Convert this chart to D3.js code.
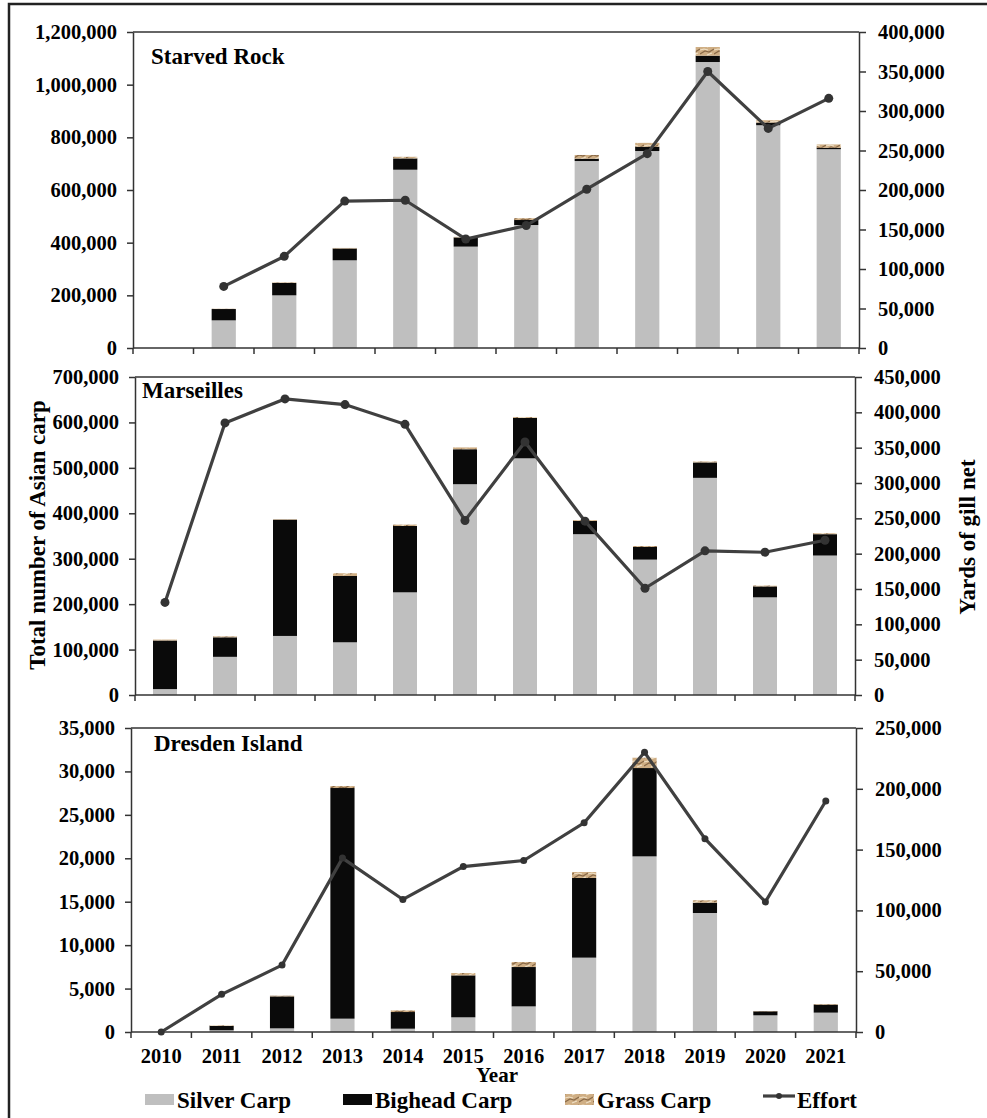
<!DOCTYPE html>
<html>
<head>
<meta charset="utf-8">
<script src="https://cdn.jsdelivr.net/npm/d3@7"></script>
<style>
  body { margin: 0; background: #fff; }
  svg text { font-family: "Liberation Serif", "Times New Roman", serif; font-weight: bold; fill: #000; }
</style>
</head>
<body>
<div id="chart"></div>
<script>
// ---- data (numbers per year) ----
let years = [2010, 2011, 2012, 2013, 2014, 2015, 2016, 2017, 2018, 2019, 2020, 2021];

let srSilver  = [0, 105000, 200000, 333000, 677000, 385000, 467000, 710000, 748000, 1086000, 846000, 755000];
let srBighead = [0, 43000, 47000, 45000, 43000, 35000, 19000, 9000, 16000, 24000, 10000, 5000];
let srGrass   = [0, 1000, 2000, 2000, 6000, 2000, 7000, 14000, 15000, 33000, 9000, 13000];
let srEffort  = [null, 78000, 116000, 186000, 187000, 138000, 155000, 201000, 246000, 350000, 278000, 316000];

let maSilver  = [13000, 84000, 130000, 116000, 226000, 464000, 521000, 354000, 298000, 478000, 215000, 307000];
let maBighead = [107000, 43000, 256000, 146000, 146000, 77000, 89000, 29000, 28000, 34000, 24000, 47000];
let maGrass   = [2000, 2000, 1000, 6000, 3000, 4000, 2000, 2000, 2000, 2000, 2000, 2000];
let maEffort  = [131000, 385000, 419000, 411000, 383000, 247000, 358000, 246000, 151000, 204000, 202000, 219000];

let drSilver  = [0, 200, 420, 1535, 380, 1690, 2950, 8560, 20220, 13700, 1920, 2230];
let drBighead = [0, 500, 3680, 26555, 1920, 4830, 4530, 9170, 10170, 1190, 460, 920];
let drGrass   = [0, 70, 80, 230, 190, 270, 580, 690, 1190, 270, 40, 70];
let drEffort  = [0, 31000, 55000, 143000, 109000, 136000, 141000, 172000, 230000, 159000, 107000, 190000];

let leftTicks1 = [0, 200000, 400000, 600000, 800000, 1000000, 1200000];
let rightTicks1 = [0, 50000, 100000, 150000, 200000, 250000, 300000, 350000, 400000];
let leftTicks2 = [0, 100000, 200000, 300000, 400000, 500000, 600000, 700000];
let rightTicks2 = [0, 50000, 100000, 150000, 200000, 250000, 300000, 350000, 400000, 450000];
let leftTicks3 = [0, 5000, 10000, 15000, 20000, 25000, 30000, 35000];
let rightTicks3 = [0, 50000, 100000, 150000, 200000, 250000];

let speciesKeys = ["silver", "bighead", "grass"];
let legendNames = ["Silver Carp", "Bighead Carp", "Grass Carp", "Effort"];

// ---- page ----
let width = 987, height = 1118;
let fmt = d3.format(",");

let svg = d3.select("#chart").append("svg")
  .attr("width", width).attr("height", height);

// grass carp texture
let defs = svg.append("defs");
let pat = defs.append("pattern").attr("id", "grass")
  .attr("patternUnits", "userSpaceOnUse").attr("width", 14).attr("height", 8);
pat.append("rect").attr("width", 14).attr("height", 8).attr("fill", "#cfae84");
pat.append("path").attr("d", "M0,6 L5,3 L9,4 L14,1").attr("stroke", "#8a6a48").attr("stroke-width", 1.2).attr("fill", "none");
pat.append("path").attr("d", "M0,2 L4,1 L8,2 M7,7 L12,5").attr("stroke", "#efe0c6").attr("stroke-width", 1.2).attr("fill", "none");

let colors = { silver: "#bfbfbf", bighead: "#0a0a0a", grass: "url(#grass)" };

// outer frame
svg.append("rect").attr("x", 9).attr("y", 4).attr("width", 1000).attr("height", 1200)
  .attr("fill", "none").attr("stroke", "#222").attr("stroke-width", 2.5);

let panels = [
  { title: "Starved Rock", silver: srSilver, bighead: srBighead, grass: srGrass, effort: srEffort,
    left: 133, right: 859, top: 32, bottom: 348, lMax: 1200000, rMax: 400000,
    lTicks: leftTicks1, rTicks: rightTicks1, r: 4.5, tx: 151, ty: 64 },
  { title: "Marseilles", silver: maSilver, bighead: maBighead, grass: maGrass, effort: maEffort,
    left: 135, right: 855, top: 377, bottom: 695, lMax: 700000, rMax: 450000,
    lTicks: leftTicks2, rTicks: rightTicks2, r: 4.5, tx: 142, ty: 398 },
  { title: "Dresden Island", silver: drSilver, bighead: drBighead, grass: drGrass, effort: drEffort,
    left: 131, right: 856, top: 728, bottom: 1032, lMax: 35000, rMax: 250000,
    lTicks: leftTicks3, rTicks: rightTicks3, r: 3.5, tx: 154, ty: 751, xLabels: true }
];

panels.forEach(function(p) {
  let g = svg.append("g");

  let x = d3.scaleBand().domain(years).range([p.left, p.right])
    .paddingInner(0.6).paddingOuter(0.3);
  let yL = d3.scaleLinear().domain([0, p.lMax]).range([p.bottom, p.top]);
  let yR = d3.scaleLinear().domain([0, p.rMax]).range([p.bottom, p.top]);

  let rows = years.map(function(yr, i) {
    return { year: yr, silver: p.silver[i], bighead: p.bighead[i], grass: p.grass[i] };
  });
  let stacked = d3.stack().keys(speciesKeys)(rows);

  g.selectAll("g.layer").data(stacked).enter().append("g")
    .attr("fill", function(d) { return colors[d.key]; })
    .selectAll("rect").data(function(d) { return d; }).enter().append("rect")
    .attr("x", function(d) { return x(d.data.year); })
    .attr("width", x.bandwidth())
    .attr("y", function(d) { return yL(d[1]); })
    .attr("height", function(d) { return yL(d[0]) - yL(d[1]); });

  // top frame line
  g.append("line").attr("x1", p.left).attr("x2", p.right)
    .attr("y1", p.top).attr("y2", p.top).attr("stroke", "#333").attr("stroke-width", 1.5);

  // left axis
  let la = g.append("g").attr("transform", "translate(" + p.left + ",0)")
    .call(d3.axisLeft(yL).tickValues(p.lTicks).tickFormat(fmt).tickSize(6).tickPadding(10).tickSizeOuter(0));
  // right axis
  let ra = g.append("g").attr("transform", "translate(" + p.right + ",0)")
    .call(d3.axisRight(yR).tickValues(p.rTicks).tickFormat(fmt).tickSize(7).tickPadding(12).tickSizeOuter(0));
  [la, ra].forEach(function(a) {
    a.attr("font-family", null).attr("font-size", null);
    a.selectAll("path, line").attr("stroke", "#333").attr("stroke-width", 1.5);
    a.selectAll("text").style("font-size", "20.5px").attr("fill", "#000");
  });

  // bottom axis with ticks on category boundaries
  let step = x.step();
  let bounds = years.map(function(yr) { return x(yr) - step * 0.3; }).concat([p.right]);
  let xb = g.append("g").attr("transform", "translate(0," + p.bottom + ")");
  xb.append("line").attr("x1", p.left).attr("x2", p.right).attr("stroke", "#333").attr("stroke-width", 1.5);
  xb.selectAll("line.tk").data(bounds).enter().append("line").attr("class", "tk")
    .attr("x1", function(d) { return d; }).attr("x2", function(d) { return d; })
    .attr("y1", 0).attr("y2", 6).attr("stroke", "#333").attr("stroke-width", 1.5);
  if (p.xLabels) {
    xb.selectAll("text.yr").data(years).enter().append("text").attr("class", "yr")
      .attr("x", function(d) { return x(d) + x.bandwidth() / 2; })
      .attr("y", 31).attr("text-anchor", "middle").style("font-size", "20.5px")
      .text(function(d) { return d; });
  }

  // effort line
  let pts = years.map(function(yr, i) { return { year: yr, v: p.effort[i] }; })
    .filter(function(d) { return d.v !== null; });
  let line = d3.line()
    .x(function(d) { return x(d.year) + x.bandwidth() / 2; })
    .y(function(d) { return yR(d.v); });
  g.append("path").datum(pts).attr("d", line)
    .attr("fill", "none").attr("stroke", "#404040").attr("stroke-width", 3.2);
  g.selectAll("circle").data(pts).enter().append("circle")
    .attr("cx", function(d) { return x(d.year) + x.bandwidth() / 2; })
    .attr("cy", function(d) { return yR(d.v); })
    .attr("r", p.r).attr("fill", "#333");

  g.append("text").attr("x", p.tx).attr("y", p.ty).style("font-size", "23px").text(p.title);
});

// axis titles
svg.append("text").attr("transform", "translate(45,535) rotate(-90)")
  .attr("text-anchor", "middle").style("font-size", "23px").text("Total number of Asian carp");
svg.append("text").attr("transform", "translate(975,537) rotate(-90)")
  .attr("text-anchor", "middle").style("font-size", "23px").text("Yards of gill net");
svg.append("text").attr("x", 497).attr("y", 1082).attr("text-anchor", "middle")
  .style("font-size", "21px").text("Year");

// legend
let legendX = [145, 343, 565, 763];
let lg = svg.append("g");
legendNames.forEach(function(name, i) {
  let item = lg.append("g").attr("transform", "translate(" + legendX[i] + ",0)");
  if (i < 3) {
    item.append("rect").attr("x", 0).attr("y", 1094).attr("width", 29).attr("height", 11)
      .attr("fill", colors[speciesKeys[i]]);
  } else {
    item.append("line").attr("x1", 0).attr("x2", 32).attr("y1", 1096).attr("y2", 1096)
      .attr("stroke", "#404040").attr("stroke-width", 3.2);
    item.append("circle").attr("cx", 16).attr("cy", 1096).attr("r", 3).attr("fill", "#333");
  }
  item.append("text").attr("x", i < 3 ? 32 : 34).attr("y", 1108).style("font-size", "23px").text(name);
});
</script>
</body>
</html>
